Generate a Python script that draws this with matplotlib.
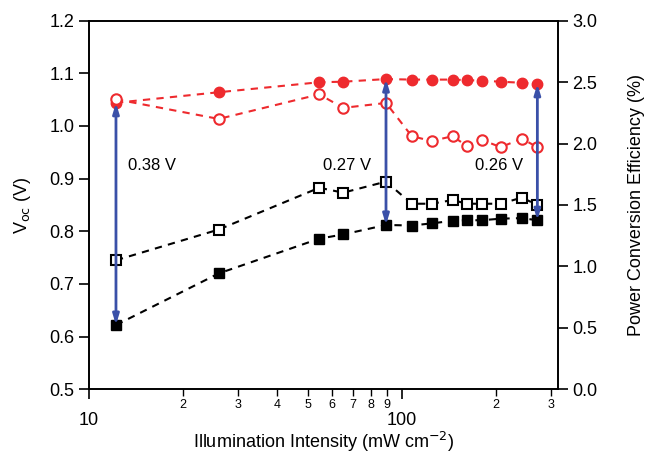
import matplotlib
matplotlib.use("Agg")
import matplotlib.pyplot as plt
from matplotlib.ticker import LogLocator, FuncFormatter, MultipleLocator

plt.rcParams['font.family'] = ['Liberation Sans', 'DejaVu Sans']

# Интенсивность освещения, мВт/см2
intensity = [12.2, 26.0, 54.5, 65.0, 89.1, 107.7, 124.7, 145.6, 161.5, 180.4, 207.4, 242.2, 271.6]

# Voc, В (закрашенные маркеры, левая ось)
voc_red = [1.044, 1.064, 1.083, 1.084, 1.089, 1.088, 1.088, 1.088, 1.087, 1.086, 1.084, 1.082, 1.080]
voc_black = [0.622, 0.720, 0.786, 0.794, 0.812, 0.811, 0.815, 0.820, 0.821, 0.821, 0.824, 0.825, 0.821]

# КПД, % (пустые маркеры, правая ось)
pce_red = [2.36, 2.20, 2.40, 2.29, 2.33, 2.06, 2.02, 2.06, 1.98, 2.03, 1.97, 2.04, 1.97]
pce_black = [1.05, 1.30, 1.64, 1.60, 1.69, 1.51, 1.51, 1.54, 1.51, 1.51, 1.51, 1.56, 1.50]

# Стрелки разницы Voc
arrow_idx = [0, 4, 12]
arrow_text = ['0.38 V', '0.27 V', '0.26 V']
text_x = [13.3, 56.0, 172.0]

red = '#ee2a2e'
blue = '#3a50a8'

fig = plt.figure(figsize=(6.48, 4.53), dpi=100)
ax = fig.add_axes([0.1373, 0.1406, 0.7237, 0.8139])
ax2 = ax.twinx()

dash = (0, (3.5, 3))
ax.plot(intensity, voc_red, color=red, ls=dash, lw=1.5, marker='o', ms=7.5, zorder=3)
ax.plot(intensity, voc_black, color='black', ls=dash, lw=1.5, marker='s', ms=7, zorder=3)
ax2.plot(intensity, pce_red, color=red, ls=dash, lw=1.5, marker='o', ms=7.5,
         mfc='white', mew=1.5, zorder=3)
ax2.plot(intensity, pce_black, color='black', ls=dash, lw=1.5, marker='s', ms=7,
         mfc='white', mew=1.5, zorder=3)

for i, t, tx in zip(arrow_idx, arrow_text, text_x):
    x = intensity[i]
    ax2.annotate('', xy=(x, voc_black[i]), xytext=(x, voc_red[i]),
                 xycoords=ax.transData, textcoords=ax.transData,
                 arrowprops=dict(arrowstyle='<|-|>,head_length=0.6,head_width=0.18',
                                 color=blue, lw=2, shrinkA=0, shrinkB=0),
                 zorder=5)
    ax.text(tx, 0.925, t, fontsize=12, va='center', ha='left')

ax.set_xscale('log')
ax.set_xlim(10, 316)
ax.set_ylim(0.5, 1.2)
ax2.set_ylim(0, 3.0)
ax.yaxis.set_major_locator(MultipleLocator(0.1))
ax2.yaxis.set_major_locator(MultipleLocator(0.5))
ax.yaxis.set_major_formatter(FuncFormatter(lambda v, p: f'{v:.1f}'))
ax2.yaxis.set_major_formatter(FuncFormatter(lambda v, p: f'{v:.1f}'))

ax.xaxis.set_major_locator(LogLocator(base=10, numticks=5))
ax.xaxis.set_minor_locator(LogLocator(base=10, subs=range(2, 10), numticks=20))


def minor_fmt(v, p):
    lead = v / 10 ** int(f'{v:e}'.split('e')[1])
    return f'{round(lead):d}'


ax.xaxis.set_minor_formatter(FuncFormatter(minor_fmt))
ax.xaxis.set_major_formatter(FuncFormatter(lambda v, p: f'{v:g}'))

ax.tick_params(axis='x', which='major', direction='out', length=7, width=1.2,
               labelsize=13, pad=9)
ax.tick_params(axis='x', which='minor', direction='out', length=5, width=1,
               labelsize=9, pad=2)
ax.tick_params(axis='y', direction='out', length=7, width=1.2, labelsize=13)
ax2.tick_params(axis='y', direction='out', length=7, width=1.2, labelsize=13)

for a in (ax, ax2):
    for s in a.spines.values():
        s.set_linewidth(1.2)

ax.set_xlabel('Illumination Intensity (mW cm$^{-2}$)', fontsize=13, labelpad=1)
ax.set_ylabel('V$_{\\mathrm{oc}}$ (V)', fontsize=13, labelpad=12)
ax2.set_ylabel('Power Conversion Efficiency (%)', fontsize=13, labelpad=22)

fig.savefig('out.png', dpi=100)
